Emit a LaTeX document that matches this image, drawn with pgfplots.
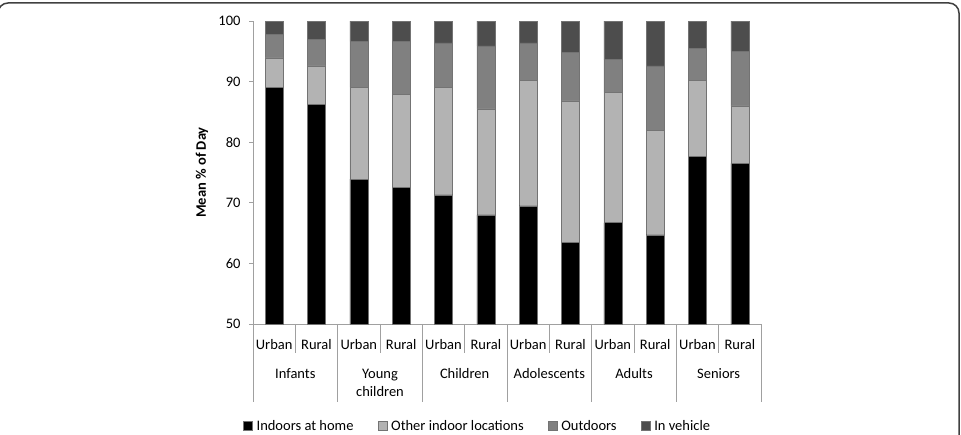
\documentclass[border=0pt]{standalone}
\usepackage{pgfplots}
\usepackage{pgfplotstable}
\pgfplotsset{compat=1.18}
\usepackage{fontspec}
\setmainfont{Carlito}
\definecolor{cother}{HTML}{B3B3B3}
\definecolor{cout}{HTML}{808080}
\definecolor{cveh}{HTML}{4D4D4D}
\definecolor{axgray}{HTML}{A0A0A0}
\pgfplotstableread{
idx home other out veh
1 89.1 4.8 3.9 2.2
2 86.2 6.4 4.4 3.0
3 73.9 15.2 7.5 3.4
4 72.6 15.3 8.8 3.3
5 71.3 17.8 7.3 3.6
6 68.0 17.5 10.4 4.1
7 69.5 20.7 6.2 3.6
8 63.4 23.4 8.0 5.2
9 66.7 21.5 5.4 6.4
10 64.7 17.3 10.6 7.4
11 77.7 12.5 5.3 4.5
12 76.5 9.5 9.0 5.0
}\datatable
\newcommand{\lfont}{\fontsize{14.5}{17.5}\selectfont}
\begin{document}
\begin{tikzpicture}[x=1pt,y=1pt]
\useasboundingbox (0,0) rectangle (961,434);
\begin{scope}
\clip (0,0) rectangle (961,434);
\draw[color=black!75, line width=1.5pt, rounded corners=10pt] (-2,-20) rectangle (959,431);
\end{scope}
\begin{axis}[
  at={(253pt,110pt)}, anchor=south west,
  scale only axis, width=508pt, height=303pt,
  ybar stacked, bar width=18pt,
  xmin=0.5, xmax=12.5, ymin=50, ymax=100,
  ytick={50,60,70,80,90,100},
  xtick=\empty,
  axis x line*=bottom, axis y line*=left,
  axis line style={axgray, line width=1pt},
  y tick style={axgray, line width=1pt},
  tick align=outside, major tick length=4pt,
  /pgf/number format/assume math mode=true,
  yticklabel style={font=\lfont, xshift=-5pt},
  ylabel={\bfseries Mean \% of Day},
  every axis y label/.style={at={(axis description cs:-0.1004,0.5)}, rotate=90, anchor=center, font=\lfont},
  clip=true,
  legend columns=4,
  legend style={draw=none, fill=none, font=\lfont, at={(0.442,-0.3366)}, anchor=center,
    /tikz/every odd column/.append style={column sep=2pt},
    /tikz/every even column/.append style={column sep=22pt},
    nodes={inner xsep=2pt}},
  legend image code/.code={\draw[#1] (0pt,-4.5pt) rectangle (9pt,4.5pt);},
  every axis plot/.append style={draw=black!55, line width=0.6pt},
]
\addplot[fill=black] table[x=idx,y=home]{\datatable};
\addplot[fill=cother] table[x=idx,y=other]{\datatable};
\addplot[fill=cout] table[x=idx,y=out]{\datatable};
\addplot[fill=cveh] table[x=idx,y=veh]{\datatable};
\legend{Indoors at home, Other indoor locations, Outdoors, In vehicle}
\end{axis}
% category axis annotations (axis scale: 42.333 per category)
\begin{scope}[axgray, line width=1pt]
\foreach \i in {0,2,4,6,8,10,12} {
  \draw ({253+42.3333*\i},110) -- ({253+42.3333*\i},32);
}
\foreach \i in {1,3,5,7,9,11} {
  \draw ({253+42.3333*\i},110) -- ({253+42.3333*\i},81);
}
\end{scope}
\foreach \i in {0,2,4,6,8,10} {
  \node[font=\lfont] at ({253+42.3333*(\i+0.5)},89) {Urban};
  \node[font=\lfont] at ({253+42.3333*(\i+1.5)},89) {Rural};
}
\node[font=\lfont] at ({253+42.3333*1},60) {Infants};
\node[font=\lfont, align=center] at ({253+42.3333*3},51) {Young\\children};
\node[font=\lfont] at ({253+42.3333*5},60) {Children};
\node[font=\lfont] at ({253+42.3333*7},60) {Adolescents};
\node[font=\lfont] at ({253+42.3333*9},60) {Adults};
\node[font=\lfont] at ({253+42.3333*11},60) {Seniors};
\end{tikzpicture}
\end{document}
